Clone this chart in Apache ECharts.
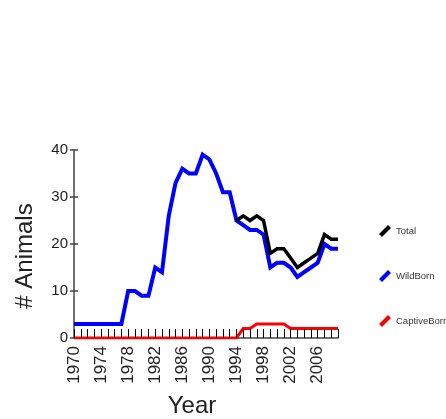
<!DOCTYPE html>
<html>
<head>
<meta charset="utf-8">
<script src="https://cdn.jsdelivr.net/npm/echarts@6/dist/echarts.min.js"></script>
<style>
  html, body { margin: 0; padding: 0; background: #fff; }
  #chart { width: 446px; height: 419px; }
</style>
</head>
<body>
<div id="chart"></div>
<script>
// Population counts per year
var years = ['1970','1971','1972','1973','1974','1975','1976','1977','1978','1979',
             '1980','1981','1982','1983','1984','1985','1986','1987','1988','1989',
             '1990','1991','1992','1993','1994','1995','1996','1997','1998','1999',
             '2000','2001','2002','2003','2004','2005','2006','2007','2008','2009'];

var wildBorn = [3, 3, 3, 3, 3, 3, 3, 3, 10, 10,
                9, 9, 15, 14, 26, 33, 36, 35, 35, 39,
                38, 35, 31, 31, 25, 24, 23, 23, 22, 15,
                16, 16, 15, 13, 14, 15, 16, 20, 19, 19];

var captiveBorn = [0, 0, 0, 0, 0, 0, 0, 0, 0, 0,
                   0, 0, 0, 0, 0, 0, 0, 0, 0, 0,
                   0, 0, 0, 0, 0, 2, 2, 3, 3, 3,
                   3, 3, 2, 2, 2, 2, 2, 2, 2, 2];

var total = [null, null, null, null, null, null, null, null, null, null,
             null, null, null, null, null, null, null, null, null, null,
             null, null, null, null, 25, 26, 25, 26, 25, 18,
             19, 19, 17, 15, 16, 17, 18, 22, 21, 21];

var yTicks = [0, 10, 20, 30, 40];

var FONT = 'Arial, "Liberation Sans", sans-serif';
var TEXT = '#222';
var AXIS = '#444';

// slanted stroke used as the legend marker
var slash = 'path://M0,9 L9,0 L12,3 L3,12 Z';

var chart = echarts.init(document.getElementById('chart'), null, { renderer: 'canvas' });

chart.setOption({
  animation: false,
  backgroundColor: '#fff',
  grid: { left: 74, right: 108, top: 150, bottom: 73, containLabel: false },
  legend: {
    orient: 'vertical',
    left: 379,
    top: 225,
    padding: 0,
    itemWidth: 12,
    itemHeight: 12,
    itemGap: 33,
    textStyle: { fontFamily: FONT, fontSize: 9.5, color: '#333' },
    data: [
      { name: 'Total', icon: slash },
      { name: 'WildBorn', icon: slash },
      { name: 'CaptiveBorn', icon: slash }
    ]
  },
  xAxis: [
    {
      type: 'category',
      data: years,
      boundaryGap: false,
      name: 'Year',
      nameLocation: 'middle',
      nameGap: 56,
      nameTextStyle: { fontFamily: FONT, fontSize: 24, color: TEXT, padding: [0, 28, 0, 0] },
      axisLine: { lineStyle: { color: AXIS, width: 1.5 } },
      axisTick: { show: false },
      axisLabel: {
        interval: 3,
        rotate: 90,
        margin: 8,
        fontFamily: FONT,
        fontSize: 17,
        color: TEXT
      },
      splitLine: { show: false }
    },
    {
      // yearly tick marks drawn above the lines
      type: 'category',
      data: years,
      boundaryGap: false,
      position: 'bottom',
      z: 10,
      axisLine: { show: false },
      axisTick: { show: true, interval: 0, inside: true, length: 9, lineStyle: { color: '#000', width: 1 } },
      axisLabel: { show: false },
      splitLine: { show: false }
    }
  ],
  yAxis: [
    {
      type: 'value',
      min: yTicks[0],
      max: yTicks[yTicks.length - 1],
      interval: 10,
      name: '# Animals',
      nameLocation: 'middle',
      nameGap: 37,
      nameRotate: 90,
      nameTextStyle: { fontFamily: FONT, fontSize: 24, color: TEXT, padding: [0, 24, 0, 0] },
      axisLine: { show: true, lineStyle: { color: AXIS, width: 1.5 } },
      axisTick: { show: true, length: 4, lineStyle: { color: AXIS, width: 1.5 } },
      axisLabel: { margin: 6, fontFamily: FONT, fontSize: 15, color: TEXT },
      splitLine: { show: false }
    },
    {
      type: 'value',
      min: yTicks[0],
      max: yTicks[yTicks.length - 1],
      interval: 10,
      position: 'left',
      axisLine: { show: false },
      axisTick: { show: true, inside: true, length: 4, lineStyle: { color: AXIS, width: 1.5 } },
      axisLabel: { show: false },
      splitLine: { show: false }
    }
  ],
  series: [
    {
      name: 'WildBorn',
      type: 'line',
      data: wildBorn,
      showSymbol: false,
      symbol: 'none',
      z: 2,
      itemStyle: { color: '#0000ff' },
      lineStyle: { color: '#0000ff', width: 4, join: 'miter' }
    },
    {
      name: 'Total',
      type: 'line',
      data: total,
      showSymbol: false,
      symbol: 'none',
      z: 3,
      itemStyle: { color: '#000000' },
      lineStyle: { color: '#000000', width: 3.5, join: 'miter' }
    },
    {
      name: 'CaptiveBorn',
      type: 'line',
      data: captiveBorn,
      showSymbol: false,
      symbol: 'none',
      z: 4,
      itemStyle: { color: '#ff0000' },
      lineStyle: { color: '#ff0000', width: 3, join: 'miter' }
    }
  ]
});
</script>
</body>
</html>
